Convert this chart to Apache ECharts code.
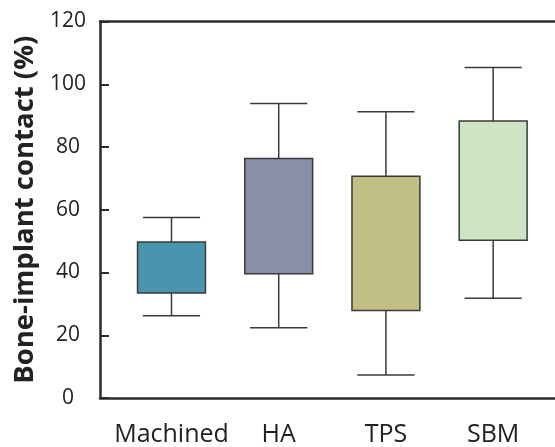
<!DOCTYPE html>
<html>
<head>
<meta charset="utf-8">
<script src="https://cdn.jsdelivr.net/npm/echarts@6/dist/echarts.min.js"></script>
<style>
  html, body { margin: 0; padding: 0; background: #fff; }
  #chart { width: 555px; height: 447px; }
</style>
</head>
<body>
<div id="chart"></div>
<script>
var categories = ['Machined', 'HA', 'TPS', 'SBM'];
var whiskerLow = [26.2, 22.4, 7.3, 31.8];
var boxLow = [33.5, 39.6, 27.9, 50.3];
var boxHigh = [49.7, 76.3, 70.7, 88.3];
var whiskerHigh = [57.5, 93.9, 91.2, 105.3];
var boxColors = ['#4a95ae', '#8a8ea8', '#c1bf84', '#cfe4c3'];

var yMin = 0, yMax = 120, yStep = 20;

// each group sits at 2, 5, 8, 11 on a hidden value scale
function slot(i) { return 2 + 3 * i; }

var boxData = categories.map(function (c, i) {
  return [slot(i), whiskerLow[i], boxLow[i], boxHigh[i], whiskerHigh[i]];
});

function renderBox(params, api) {
  var x = api.value(0);
  var lo = api.coord([x, api.value(1)]);
  var q1 = api.coord([x, api.value(2)]);
  var q3 = api.coord([x, api.value(3)]);
  var hi = api.coord([x, api.value(4)]);
  var boxW = api.size([1.9, 0])[0];
  var capW = api.size([1.6, 0])[0];
  var line = { stroke: '#3a3a3a', lineWidth: 1.5 };
  return {
    type: 'group',
    children: [
      { type: 'line', shape: { x1: hi[0], y1: hi[1], x2: q3[0], y2: q3[1] }, style: line },
      { type: 'line', shape: { x1: q1[0], y1: q1[1], x2: lo[0], y2: lo[1] }, style: line },
      { type: 'line', shape: { x1: hi[0] - capW / 2, y1: hi[1], x2: hi[0] + capW / 2, y2: hi[1] }, style: line },
      { type: 'line', shape: { x1: lo[0] - capW / 2, y1: lo[1], x2: lo[0] + capW / 2, y2: lo[1] }, style: line },
      {
        type: 'rect',
        shape: { x: q3[0] - boxW / 2, y: q3[1], width: boxW, height: q1[1] - q3[1] },
        style: { fill: boxColors[params.dataIndex], stroke: '#3a3a3a', lineWidth: 1.5 }
      }
    ]
  };
}

var chart = echarts.init(document.getElementById('chart'));

var frameLine = { show: true, lineStyle: { color: '#2b2b2b', width: 2.5 } };

var option = {
  animation: false,
  textStyle: { fontFamily: 'Open Sans' },
  grid: {
    left: 100,
    right: 0,
    top: 21.5,
    bottom: 47
  },
  xAxis: [
    {
      type: 'value',
      min: 0,
      max: 12.73,
      interval: 1,
      splitLine: { show: false },
      axisTick: { show: false },
      axisLine: frameLine,
      axisLabel: {
        margin: 24,
        fontSize: 25,
        color: '#222',
        showMaxLabel: false,
        formatter: function (v) {
          var i = (v - 2) / 3;
          return (Number.isInteger(i) && categories[i]) ? categories[i] : '';
        }
      }
    },
    {
      // top edge of the frame
      type: 'value',
      position: 'top',
      min: 0,
      max: 12.73,
      splitLine: { show: false },
      axisTick: { show: false },
      axisLabel: { show: false },
      axisLine: frameLine
    }
  ],
  yAxis: {
    type: 'value',
    min: yMin,
    max: yMax,
    interval: yStep,
    name: 'Bone-implant contact (%)',
    nameLocation: 'middle',
    nameGap: 60,
    nameTextStyle: { fontSize: 27.5, fontWeight: 'bold', color: '#222', fontFamily: 'Open Sans' },
    splitLine: { show: false },
    axisLine: frameLine,
    axisTick: { show: true, inside: true, length: 9, lineStyle: { color: '#2b2b2b', width: 2 } },
    axisLabel: { margin: 32, align: 'center', fontSize: 21, color: '#222' }
  },
  series: [
    {
      type: 'custom',
      renderItem: renderBox,
      encode: { x: 0, y: [1, 2, 3, 4] },
      data: boxData
    }
  ]
};

chart.setOption(option);
</script>
</body>
</html>
